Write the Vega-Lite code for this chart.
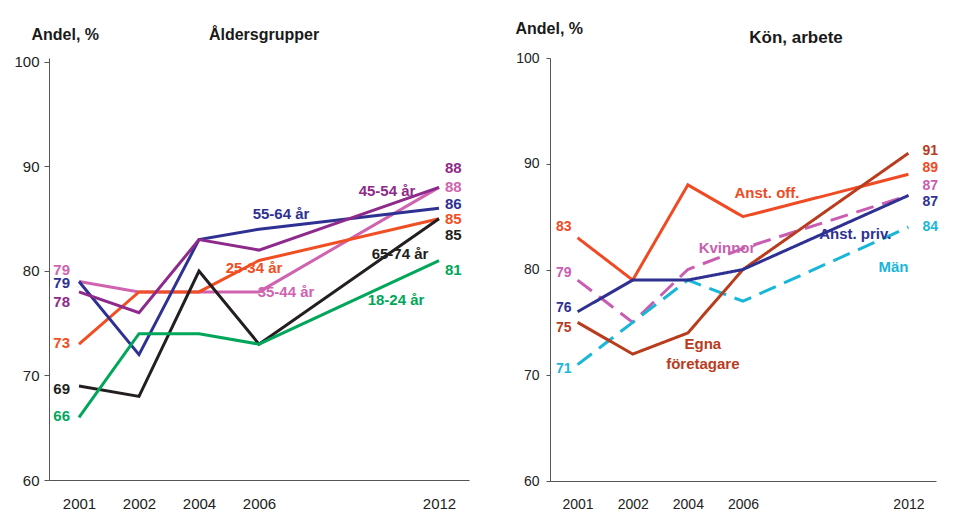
{
  "$schema": "https://vega.github.io/schema/vega-lite/v6.json",
  "padding": {"left": 13, "top": 20, "right": 5, "bottom": 5},
  "background": "white",
  "resolve": {"scale": {"color": "independent", "strokeDash": "independent", "x": "independent", "y": "independent"}},
  "config": {
    "font": "Liberation Sans",
    "view": {"stroke": null},
    "concat": {"spacing": 46},
    "text": {"fontWeight": "bold", "baseline": "middle"}
  },
  "datasets": {
    "age": [
      {"group": "35-44 år", "year": "2001", "value": 79}, {"group": "35-44 år", "year": "2002", "value": 78}, {"group": "35-44 år", "year": "2004", "value": 78}, {"group": "35-44 år", "year": "2006", "value": 78}, {"group": "35-44 år", "year": "2012", "value": 88},
      {"group": "25-34 år", "year": "2001", "value": 73}, {"group": "25-34 år", "year": "2002", "value": 78}, {"group": "25-34 år", "year": "2004", "value": 78}, {"group": "25-34 år", "year": "2006", "value": 81}, {"group": "25-34 år", "year": "2012", "value": 85},
      {"group": "55-64 år", "year": "2001", "value": 79}, {"group": "55-64 år", "year": "2002", "value": 72}, {"group": "55-64 år", "year": "2004", "value": 83}, {"group": "55-64 år", "year": "2006", "value": 84}, {"group": "55-64 år", "year": "2012", "value": 86},
      {"group": "45-54 år", "year": "2001", "value": 78}, {"group": "45-54 år", "year": "2002", "value": 76}, {"group": "45-54 år", "year": "2004", "value": 83}, {"group": "45-54 år", "year": "2006", "value": 82}, {"group": "45-54 år", "year": "2012", "value": 88},
      {"group": "65-74 år", "year": "2001", "value": 69}, {"group": "65-74 år", "year": "2002", "value": 68}, {"group": "65-74 år", "year": "2004", "value": 80}, {"group": "65-74 år", "year": "2006", "value": 73}, {"group": "65-74 år", "year": "2012", "value": 85},
      {"group": "18-24 år", "year": "2001", "value": 66}, {"group": "18-24 år", "year": "2002", "value": 74}, {"group": "18-24 år", "year": "2004", "value": 74}, {"group": "18-24 år", "year": "2006", "value": 73}, {"group": "18-24 år", "year": "2012", "value": 81}
    ],
    "ageLabels": [
      {"group": "35-44 år", "kind": "value", "year": "2001", "value": 80.1, "label": "79"},
      {"group": "55-64 år", "kind": "value", "year": "2001", "value": 78.85, "label": "79"},
      {"group": "45-54 år", "kind": "value", "year": "2001", "value": 77.0, "label": "78"},
      {"group": "25-34 år", "kind": "value", "year": "2001", "value": 73.1, "label": "73"},
      {"group": "65-74 år", "kind": "value", "year": "2001", "value": 68.7, "label": "69"},
      {"group": "18-24 år", "kind": "value", "year": "2001", "value": 66.1, "label": "66"},
      {"group": "45-54 år", "kind": "value", "year": "2012", "value": 89.85, "label": "88"},
      {"group": "35-44 år", "kind": "value", "year": "2012", "value": 88.05, "label": "88"},
      {"group": "55-64 år", "kind": "value", "year": "2012", "value": 86.4, "label": "86"},
      {"group": "25-34 år", "kind": "value", "year": "2012", "value": 85.0, "label": "85"},
      {"group": "65-74 år", "kind": "value", "year": "2012", "value": 83.45, "label": "85"},
      {"group": "18-24 år", "kind": "value", "year": "2012", "value": 80.1, "label": "81"},
      {"group": "45-54 år", "kind": "name", "year": "2010", "value": 87.65, "label": "45-54 år"},
      {"group": "55-64 år", "kind": "name", "year": "2006", "value": 85.45, "label": "55-64 år"},
      {"group": "25-34 år", "kind": "name", "year": "2006", "value": 80.3, "label": "25-34 år"},
      {"group": "35-44 år", "kind": "name", "year": "2006", "value": 78.0, "label": "35-44 år"},
      {"group": "65-74 år", "kind": "name", "year": "2010", "value": 81.6, "label": "65-74 år"},
      {"group": "18-24 år", "kind": "name", "year": "2010", "value": 77.2, "label": "18-24 år"}
    ],
    "work": [
      {"group": "Kvinnor", "year": "2001", "value": 79}, {"group": "Kvinnor", "year": "2002", "value": 75}, {"group": "Kvinnor", "year": "2004", "value": 80}, {"group": "Kvinnor", "year": "2006", "value": 82}, {"group": "Kvinnor", "year": "2012", "value": 87},
      {"group": "Män", "year": "2001", "value": 71}, {"group": "Män", "year": "2002", "value": 75}, {"group": "Män", "year": "2004", "value": 79}, {"group": "Män", "year": "2006", "value": 77}, {"group": "Män", "year": "2012", "value": 84},
      {"group": "Anst. off.", "year": "2001", "value": 83}, {"group": "Anst. off.", "year": "2002", "value": 79}, {"group": "Anst. off.", "year": "2004", "value": 88}, {"group": "Anst. off.", "year": "2006", "value": 85}, {"group": "Anst. off.", "year": "2012", "value": 89},
      {"group": "Egna företagare", "year": "2001", "value": 75}, {"group": "Egna företagare", "year": "2002", "value": 72}, {"group": "Egna företagare", "year": "2004", "value": 74}, {"group": "Egna företagare", "year": "2006", "value": 80}, {"group": "Egna företagare", "year": "2012", "value": 91},
      {"group": "Anst. priv.", "year": "2001", "value": 76}, {"group": "Anst. priv.", "year": "2002", "value": 79}, {"group": "Anst. priv.", "year": "2004", "value": 79}, {"group": "Anst. priv.", "year": "2006", "value": 80}, {"group": "Anst. priv.", "year": "2012", "value": 87}
    ],
    "workLabels": [
      {"group": "Anst. off.", "kind": "value", "year": "2001", "value": 84.0, "label": "83"},
      {"group": "Kvinnor", "kind": "value", "year": "2001", "value": 79.7, "label": "79"},
      {"group": "Anst. priv.", "kind": "value", "year": "2001", "value": 76.4, "label": "76"},
      {"group": "Egna företagare", "kind": "value", "year": "2001", "value": 74.5, "label": "75"},
      {"group": "Män", "kind": "value", "year": "2001", "value": 70.6, "label": "71"},
      {"group": "Egna företagare", "kind": "value", "year": "2012", "value": 91.2, "label": "91"},
      {"group": "Anst. off.", "kind": "value", "year": "2012", "value": 89.6, "label": "89"},
      {"group": "Kvinnor", "kind": "value", "year": "2012", "value": 87.9, "label": "87"},
      {"group": "Anst. priv.", "kind": "value", "year": "2012", "value": 86.4, "label": "87"},
      {"group": "Män", "kind": "value", "year": "2012", "value": 84.0, "label": "84"},
      {"group": "Anst. off.", "kind": "name", "year": "2006", "value": 87.2, "label": "Anst. off."},
      {"group": "Kvinnor", "kind": "name", "year": "2006", "value": 82.0, "label": "Kvinnor"},
      {"group": "Anst. priv.", "kind": "name", "year": "2010", "value": 83.4, "label": "Anst. priv."},
      {"group": "Män", "kind": "name", "year": "2012", "value": 80.2, "label": "Män"},
      {"group": "Egna företagare", "kind": "name", "year": "2004", "value": 73.0, "label": "Egna"},
      {"group": "Egna företagare", "kind": "name", "year": "2004", "value": 71.1, "label": "företagare"}
    ]
  },
  "hconcat": [
    {
      "width": 420,
      "height": 422,
      "title": {"text": "Åldersgrupper", "frame": "group", "anchor": "middle", "dx": 5, "offset": -30, "baseline": "alphabetic", "fontSize": 16, "fontWeight": "bold", "color": "#1a1a1a"},
      "encoding": {
        "x": {"field": "year", "type": "ordinal",
          "scale": {"type": "point", "domain": ["2001", "2002", "2004", "2006", "2008", "2010", "2012"], "padding": 0.5},
          "axis": {"title": null, "ticks": false, "labelAngle": 0, "labelExpr": "datum.value == '2008' || datum.value == '2010' ? '' : datum.value", "labelPadding": 16, "labelFontSize": 15, "labelColor": "#222", "domainColor": "#555", "grid": false}},
        "y": {"field": "value", "type": "quantitative",
          "scale": {"domain": [60, 100.38], "nice": false, "zero": false},
          "axis": {"values": [60, 70, 80, 90, 100], "title": "Andel, %", "titleAngle": 0, "titleX": -18, "titleY": -19, "titleAlign": "left", "titleBaseline": "alphabetic", "titleFontSize": 16, "titleFontWeight": "bold", "titleColor": "#1a1a1a", "tickSize": 5, "tickColor": "#555", "domainColor": "#555", "labelFontSize": 15, "labelPadding": 5, "labelColor": "#222", "grid": false}}
      },
      "layer": [
        {"data": {"name": "age"}, "mark": {"type": "line", "strokeWidth": 3},
          "encoding": {"color": {"field": "group", "type": "nominal", "legend": null,
            "scale": {"domain": ["35-44 år", "25-34 år", "55-64 år", "45-54 år", "65-74 år", "18-24 år"], "range": ["#D063B0", "#F04E23", "#2E3192", "#8E2A8B", "#231F20", "#00A65A"]}}}},
        {"data": {"name": "ageLabels"}, "transform": [{"filter": "datum.kind == 'value' && datum.year == '2001'"}],
          "mark": {"type": "text", "align": "right", "dx": -9, "fontSize": 15},
          "encoding": {"text": {"field": "label"}, "color": {"field": "group", "type": "nominal", "legend": null}}},
        {"data": {"name": "ageLabels"}, "transform": [{"filter": "datum.kind == 'value' && datum.year == '2012'"}],
          "mark": {"type": "text", "align": "left", "dx": 6, "fontSize": 15},
          "encoding": {"text": {"field": "label"}, "color": {"field": "group", "type": "nominal", "legend": null}}},
        {"data": {"name": "ageLabels"}, "transform": [{"filter": "datum.label == '45-54 år'"}],
          "mark": {"type": "text", "align": "center", "dx": 8, "fontSize": 15},
          "encoding": {"text": {"field": "label"}, "color": {"field": "group", "type": "nominal", "legend": null}}},
        {"data": {"name": "ageLabels"}, "transform": [{"filter": "datum.label == '55-64 år'"}],
          "mark": {"type": "text", "align": "center", "dx": 22, "fontSize": 15},
          "encoding": {"text": {"field": "label"}, "color": {"field": "group", "type": "nominal", "legend": null}}},
        {"data": {"name": "ageLabels"}, "transform": [{"filter": "datum.label == '25-34 år'"}],
          "mark": {"type": "text", "align": "center", "dx": -5, "fontSize": 15},
          "encoding": {"text": {"field": "label"}, "color": {"field": "group", "type": "nominal", "legend": null}}},
        {"data": {"name": "ageLabels"}, "transform": [{"filter": "datum.label == '35-44 år'"}],
          "mark": {"type": "text", "align": "center", "dx": 27, "fontSize": 15},
          "encoding": {"text": {"field": "label"}, "color": {"field": "group", "type": "nominal", "legend": null}}},
        {"data": {"name": "ageLabels"}, "transform": [{"filter": "datum.label == '65-74 år'"}],
          "mark": {"type": "text", "align": "center", "dx": 21, "fontSize": 15},
          "encoding": {"text": {"field": "label"}, "color": {"field": "group", "type": "nominal", "legend": null}}},
        {"data": {"name": "ageLabels"}, "transform": [{"filter": "datum.label == '18-24 år'"}],
          "mark": {"type": "text", "align": "center", "dx": 17, "fontSize": 15},
          "encoding": {"text": {"field": "label"}, "color": {"field": "group", "type": "nominal", "legend": null}}}
      ]
    },
    {
      "width": 386,
      "height": 423,
      "title": {"text": "Kön, arbete", "frame": "group", "anchor": "middle", "dx": 53, "offset": -40, "baseline": "alphabetic", "fontSize": 17, "fontWeight": "bold", "color": "#1a1a1a"},
      "encoding": {
        "x": {"field": "year", "type": "ordinal",
          "scale": {"type": "point", "domain": ["2001", "2002", "2004", "2006", "2008", "2010", "2012"], "padding": 0.5},
          "axis": {"title": null, "ticks": false, "labelAngle": 0, "labelExpr": "datum.value == '2008' || datum.value == '2010' ? '' : datum.value", "labelPadding": 16, "labelFontSize": 14, "labelColor": "#222", "domainColor": "#555", "grid": false}},
        "y": {"field": "value", "type": "quantitative",
          "scale": {"domain": [60, 100], "nice": false, "zero": false},
          "axis": {"values": [60, 70, 80, 90, 100], "title": "Andel, %", "titleAngle": 0, "titleX": -35, "titleY": -25, "titleAlign": "left", "titleBaseline": "alphabetic", "titleFontSize": 16, "titleFontWeight": "bold", "titleColor": "#1a1a1a", "tickSize": 4, "tickColor": "#555", "domainColor": "#555", "labelFontSize": 14, "labelPadding": 7, "labelColor": "#222", "grid": false}}
      },
      "layer": [
        {"data": {"name": "work"}, "mark": {"type": "line", "strokeWidth": 3},
          "encoding": {
            "color": {"field": "group", "type": "nominal", "legend": null,
              "scale": {"domain": ["Kvinnor", "Män", "Anst. off.", "Egna företagare", "Anst. priv."], "range": ["#C95DB1", "#1AB6D8", "#EF4A24", "#B83C1E", "#2E3192"]}},
            "strokeDash": {"field": "group", "type": "nominal", "legend": null,
              "scale": {"domain": ["Kvinnor", "Män", "Anst. off.", "Egna företagare", "Anst. priv."], "range": [[18, 9], [18, 9], [1, 0], [1, 0], [1, 0]]}}
          }},
        {"data": {"name": "workLabels"}, "transform": [{"filter": "datum.kind == 'value' && datum.year == '2001'"}],
          "mark": {"type": "text", "align": "right", "dx": -6, "fontSize": 14},
          "encoding": {"text": {"field": "label"}, "color": {"field": "group", "type": "nominal", "legend": null}}},
        {"data": {"name": "workLabels"}, "transform": [{"filter": "datum.kind == 'value' && datum.year == '2012'"}],
          "mark": {"type": "text", "align": "left", "dx": 14, "fontSize": 14},
          "encoding": {"text": {"field": "label"}, "color": {"field": "group", "type": "nominal", "legend": null}}},
        {"data": {"name": "workLabels"}, "transform": [{"filter": "datum.label == 'Anst. off.'"}],
          "mark": {"type": "text", "align": "center", "dx": 24, "fontSize": 15},
          "encoding": {"text": {"field": "label"}, "color": {"field": "group", "type": "nominal", "legend": null}}},
        {"data": {"name": "workLabels"}, "transform": [{"filter": "datum.label == 'Kvinnor'"}],
          "mark": {"type": "text", "align": "center", "dx": -16, "fontSize": 15},
          "encoding": {"text": {"field": "label"}, "color": {"field": "group", "type": "nominal", "legend": null}}},
        {"data": {"name": "workLabels"}, "transform": [{"filter": "datum.label == 'Anst. priv.'"}],
          "mark": {"type": "text", "align": "center", "dx": 2, "fontSize": 15},
          "encoding": {"text": {"field": "label"}, "color": {"field": "group", "type": "nominal", "legend": null}}},
        {"data": {"name": "workLabels"}, "transform": [{"filter": "datum.label == 'Män'"}],
          "mark": {"type": "text", "align": "center", "dx": -15, "fontSize": 15},
          "encoding": {"text": {"field": "label"}, "color": {"field": "group", "type": "nominal", "legend": null}}},
        {"data": {"name": "workLabels"}, "transform": [{"filter": "datum.label == 'Egna' || datum.label == 'företagare'"}],
          "mark": {"type": "text", "align": "center", "dx": 15, "fontSize": 15},
          "encoding": {"text": {"field": "label"}, "color": {"field": "group", "type": "nominal", "legend": null}}}
      ]
    }
  ]
}
